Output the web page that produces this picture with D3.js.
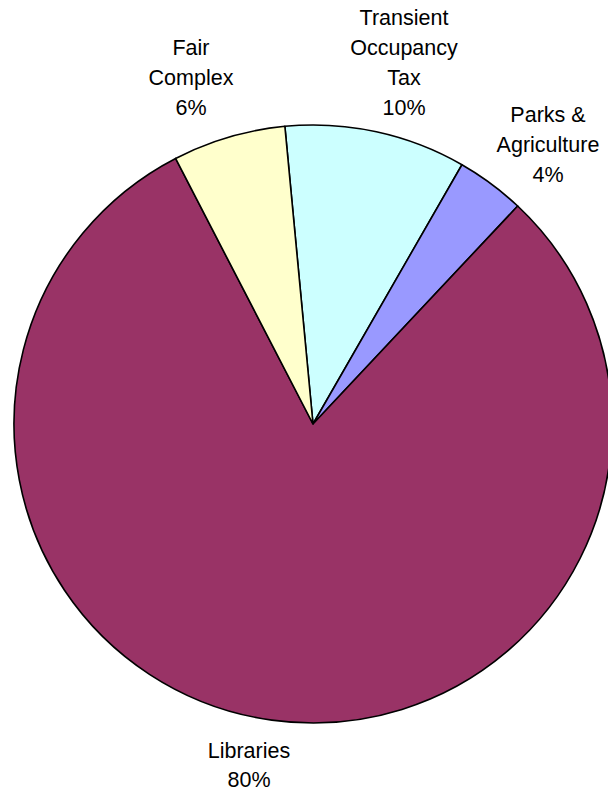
<!DOCTYPE html>
<html>
<head>
<meta charset="utf-8">
<script src="https://cdn.jsdelivr.net/npm/d3@7"></script>
<style>
  html, body { margin: 0; padding: 0; background: #fff; }
  svg { display: block; }
  text { font-family: "Liberation Sans", Arial, sans-serif; fill: #000; }
</style>
</head>
<body>
<svg id="chart" width="608" height="791"></svg>
<script>
// Data (clockwise order starting just left of 12 o'clock)
const categories = ["Transient Occupancy Tax", "Parks & Agriculture", "Libraries", "Fair Complex"];
const values = [9.8, 3.7, 80.4, 6.1];
const labelLines = [["Transient", "Occupancy", "Tax"], ["Parks &", "Agriculture"], ["Libraries"], ["Fair", "Complex"]];
const colors = ["#CCFFFF", "#9999FF", "#993366", "#FFFFCC"];

// Layout
const W = 608, H = 791;
const cx = 313, cy = 424, R = 299;
const startDeg = -5.4;
const labelAnchor = { // x center and first baseline of each label block
  "Transient Occupancy Tax": [404, 25],
  "Parks & Agriculture": [548, 122],
  "Libraries": [249, 758],
  "Fair Complex": [191, 55]
};
const lineH = 28.5;
const lineHDefault = 30;

const svg = d3.select("#chart");
const total = d3.sum(values);
const data = categories.map((c, i) => ({ name: c, value: values[i], lines: labelLines[i], color: colors[i] }));

const start = startDeg * Math.PI / 180;
const pie = d3.pie().sort(null).value(d => d.value).startAngle(start).endAngle(start + 2 * Math.PI);
const arc = d3.arc().innerRadius(0).outerRadius(R);

const g = svg.append("g").attr("transform", `translate(${cx},${cy})`);
g.selectAll("path").data(pie(data)).join("path")
  .attr("d", arc)
  .attr("fill", d => d.data.color)
  .attr("stroke", "#000")
  .attr("stroke-width", 1.6)
  .attr("stroke-linejoin", "round");

const fmt = v => Math.round(v / total * 100) + "%";
data.forEach(d => {
  const [x, y0] = labelAnchor[d.name];
  const lh = d.name === "Libraries" ? lineH : lineHDefault;
  const t = svg.append("text").attr("text-anchor", "middle").attr("font-size", 21.5);
  const lines = d.lines.concat([fmt(d.value)]);
  lines.forEach((ln, i) => {
    t.append("tspan").attr("x", x).attr("y", y0 + i * lh).text(ln);
  });
});
</script>
</body>
</html>
